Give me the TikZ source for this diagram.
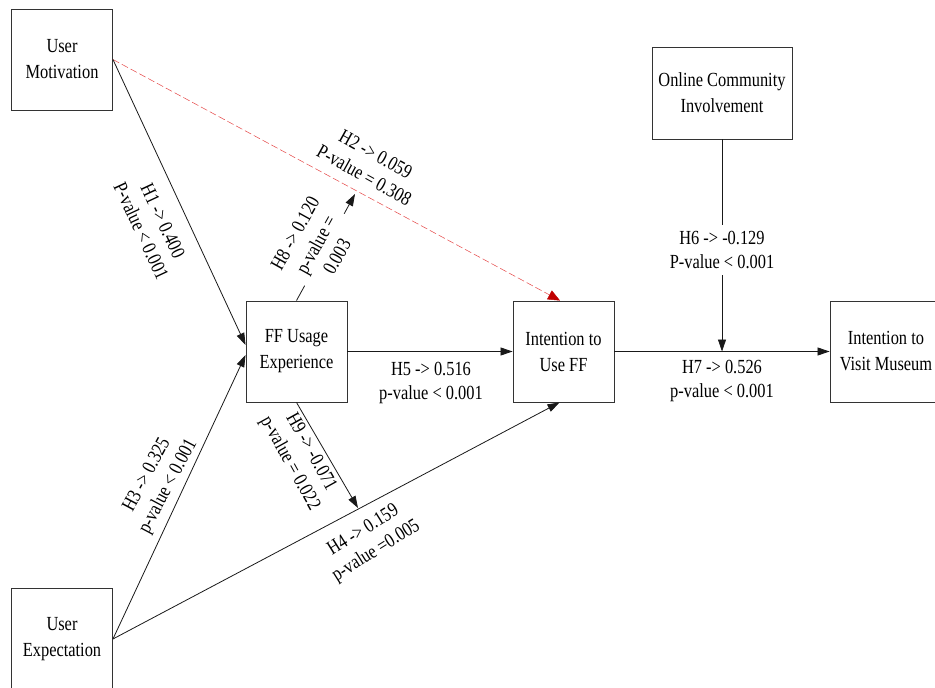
\documentclass[tikz,border=0pt]{standalone}
\usepackage{fontspec}
\setmainfont[FakeStretch=0.82]{Liberation Serif}
\usetikzlibrary{arrows.meta,calc}
\definecolor{darkred}{RGB}{192,0,0}
\definecolor{lightred}{RGB}{230,70,70}
\begin{document}
\begin{tikzpicture}[x=1pt,y=-1pt,
  box/.style={draw=black!80,line width=0.9pt,align=center,inner sep=0pt,
    minimum width=101pt,minimum height=101pt,font=\fontsize{20}{26}\selectfont},
  conn/.style={draw=black!90,line width=0.8pt,-{Triangle[length=12pt,width=8pt]}},
  redconn/.style={draw=lightred,line width=0.5pt,
    dash pattern=on 7pt off 3pt,
    -{Triangle[length=12pt,width=10pt,color=darkred,fill=darkred]}},
  lab/.style={font=\fontsize{20}{24}\selectfont,align=center,inner sep=1pt},
  whitelab/.style={lab,fill=white,inner xsep=3pt,inner ysep=6pt}]
\clip (0,0) rectangle (935,688);
\fill[white] (0,0) rectangle (935,688);

% boxes
\node[box] (UM) at (62,59.5) {User\\Motivation};
\node[box] (UE) at (62,639) {User\\Expectation};
\node[box] (FF) at (296.5,351.5) {FF Usage\\Experience};
\node[box] (IU) at (563.5,351.5) {Intention to\\Use FF};
\node[box,minimum width=112pt] (IV) at (886,351.5) {Intention to\\Visit Museum};
\node[box,minimum width=140pt,minimum height=92pt] (OC) at (722,93) {Online Community\\Involvement};

% free ends
\coordinate (mod) at (722,351.5);
\coordinate (h8end) at (355,194);
\coordinate (h9end) at (358,508);

% connectors
\draw[redconn] (UM.east) -- ([xshift=-3.5pt]IU.north);
\draw[conn] (UM.east) -- ([yshift=6.5pt]FF.west);
\draw[conn] (UE.east) -- ([yshift=-3.5pt]FF.west);
\draw[conn] (UE.east) -- ([xshift=-4pt]IU.south);
\draw[conn] (FF.east) -- (IU.west);
\draw[conn] (IU.east) -- (IV.west);
\draw[conn] (OC.south) -- (mod);
\draw[conn] (FF.north) -- (h8end);
\draw[conn] (FF.south) -- (h9end);

% labels
\node[lab,rotate=-65] (l1) at (152,226) {H1 -> 0.400\\P-value < 0.001};
\node[lab,rotate=-29] (l2) at (370,165) {H2 -> 0.059\\P-value = 0.308};
\node[lab,rotate=62] (l3) at (158,481) {H3 -> 0.325\\p-value < 0.001};
\node[lab,rotate=32] (l4) at (370,541) {H4 -> 0.159\\p-value =0.005};
\node[lab] (l5) at (431,383) {H5 -> 0.516\\p-value < 0.001};
\node[whitelab] (l6) at (722,250) {H6 -> -0.129\\P-value < 0.001};
\node[lab] (l7) at (722,381) {H7 -> 0.526\\p-value < 0.001};
\node[lab,rotate=61,fill=white] (l8) at (316,245) {H8 -> 0.120\\p-value =\\0.003};
\node[lab,rotate=-61] (l9) at (300,458) {H9 -> -0.071\\p-value = 0.022};
\end{tikzpicture}
\end{document}
